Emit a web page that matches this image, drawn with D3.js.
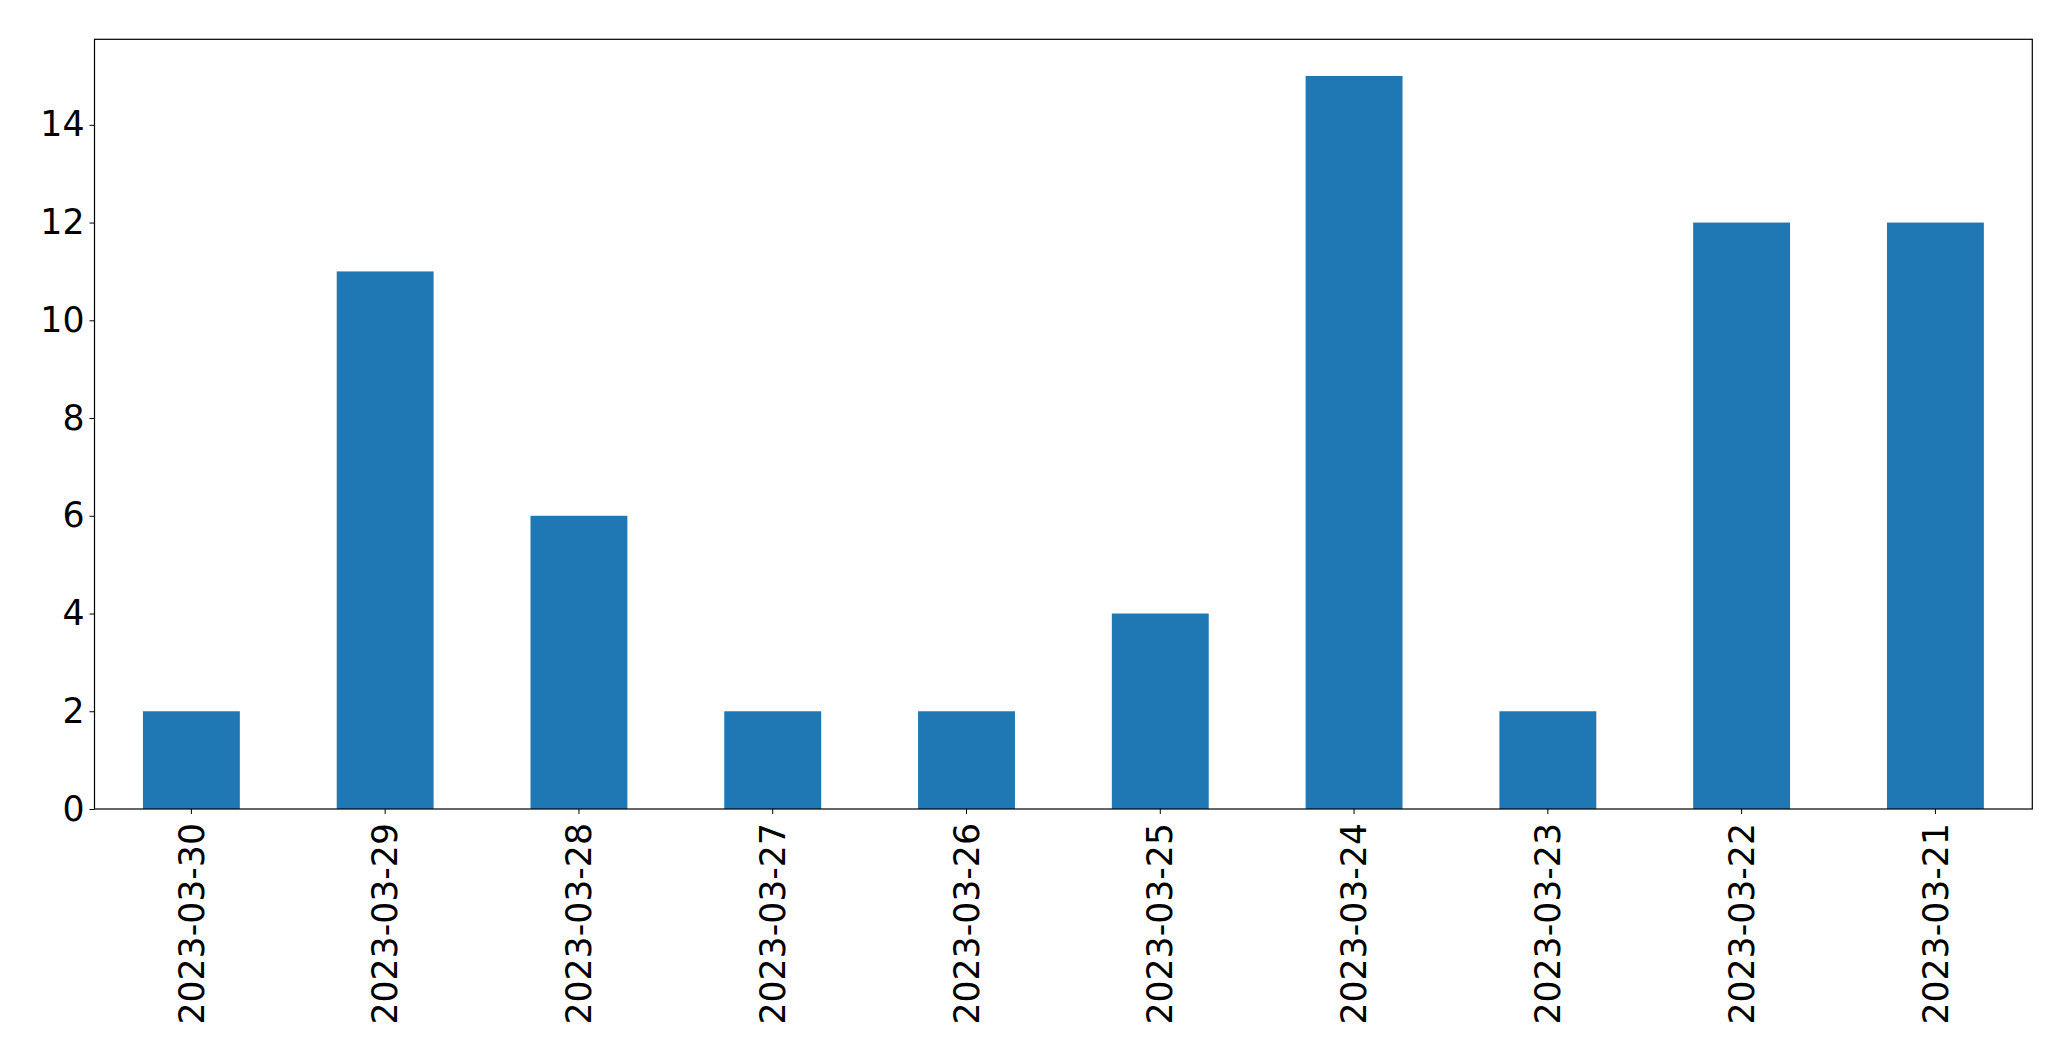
<!DOCTYPE html>
<html>
<head>
<meta charset="utf-8">
<script src="https://cdn.jsdelivr.net/npm/d3@7"></script>
<style>
  html, body { margin: 0; padding: 0; background: #fff; }
  svg { display: block; }
  text { font-family: "DejaVu Sans", sans-serif; }
</style>
</head>
<body>
<svg id="chart" width="2071" height="1061"></svg>
<script>
const categories = ["2023-03-30","2023-03-29","2023-03-28","2023-03-27","2023-03-26","2023-03-25","2023-03-24","2023-03-23","2023-03-22","2023-03-21"];
const values = [2, 11, 6, 2, 2, 4, 15, 2, 12, 12];
const yTicks = [0, 2, 4, 6, 8, 10, 12, 14];

const W = 2071, H = 1061;
const margin = { left: 94.5, right: 2071 - 2032.3, top: 39.3, bottom: 1061 - 809 };
const svg = d3.select("#chart");
const plotW = W - margin.left - margin.right;
const plotH = H - margin.top - margin.bottom;
const g = svg.append("g").attr("transform", `translate(${margin.left},${margin.top})`);

const x = d3.scaleBand().domain(categories).range([0, plotW]).paddingInner(0.5).paddingOuter(0.25);
const yMax = d3.max(values) * 1.05;
const y = d3.scaleLinear().domain([0, yMax]).range([plotH, 0]);

g.selectAll("rect.bar").data(values).enter().append("rect")
  .attr("class", "bar")
  .attr("x", (d, i) => x(categories[i]))
  .attr("width", x.bandwidth())
  .attr("y", d => y(d))
  .attr("height", d => plotH - y(d))
  .attr("fill", "#1f77b4");

// frame
g.append("rect").attr("x", 0).attr("y", 0).attr("width", plotW).attr("height", plotH)
  .attr("fill", "none").attr("stroke", "#000").attr("stroke-width", 1.2);

const FS = "34.7px";
const yAxis = d3.axisLeft(y).tickValues(yTicks).tickSize(5).tickPadding(5).tickFormat(d3.format("d"));
const ya = g.append("g").call(yAxis);
ya.select(".domain").remove();
ya.selectAll("text").attr("font-size", FS).attr("fill", "#000").attr("font-family", "DejaVu Sans, sans-serif");
ya.selectAll("line").attr("stroke", "#000");

const xAxis = d3.axisBottom(x).tickSize(5).tickPadding(0);
const xa = g.append("g").attr("transform", `translate(0,${plotH})`).call(xAxis);
xa.select(".domain").remove();
xa.selectAll("line").attr("stroke", "#000");
xa.selectAll("text")
  .attr("font-size", FS).attr("fill", "#000").attr("font-family", "DejaVu Sans, sans-serif")
  .attr("transform", "rotate(-90)")
  .attr("text-anchor", "end")
  .attr("dy", "0.35em")
  .attr("x", -14)
  .attr("y", 0);
</script>
</body>
</html>
